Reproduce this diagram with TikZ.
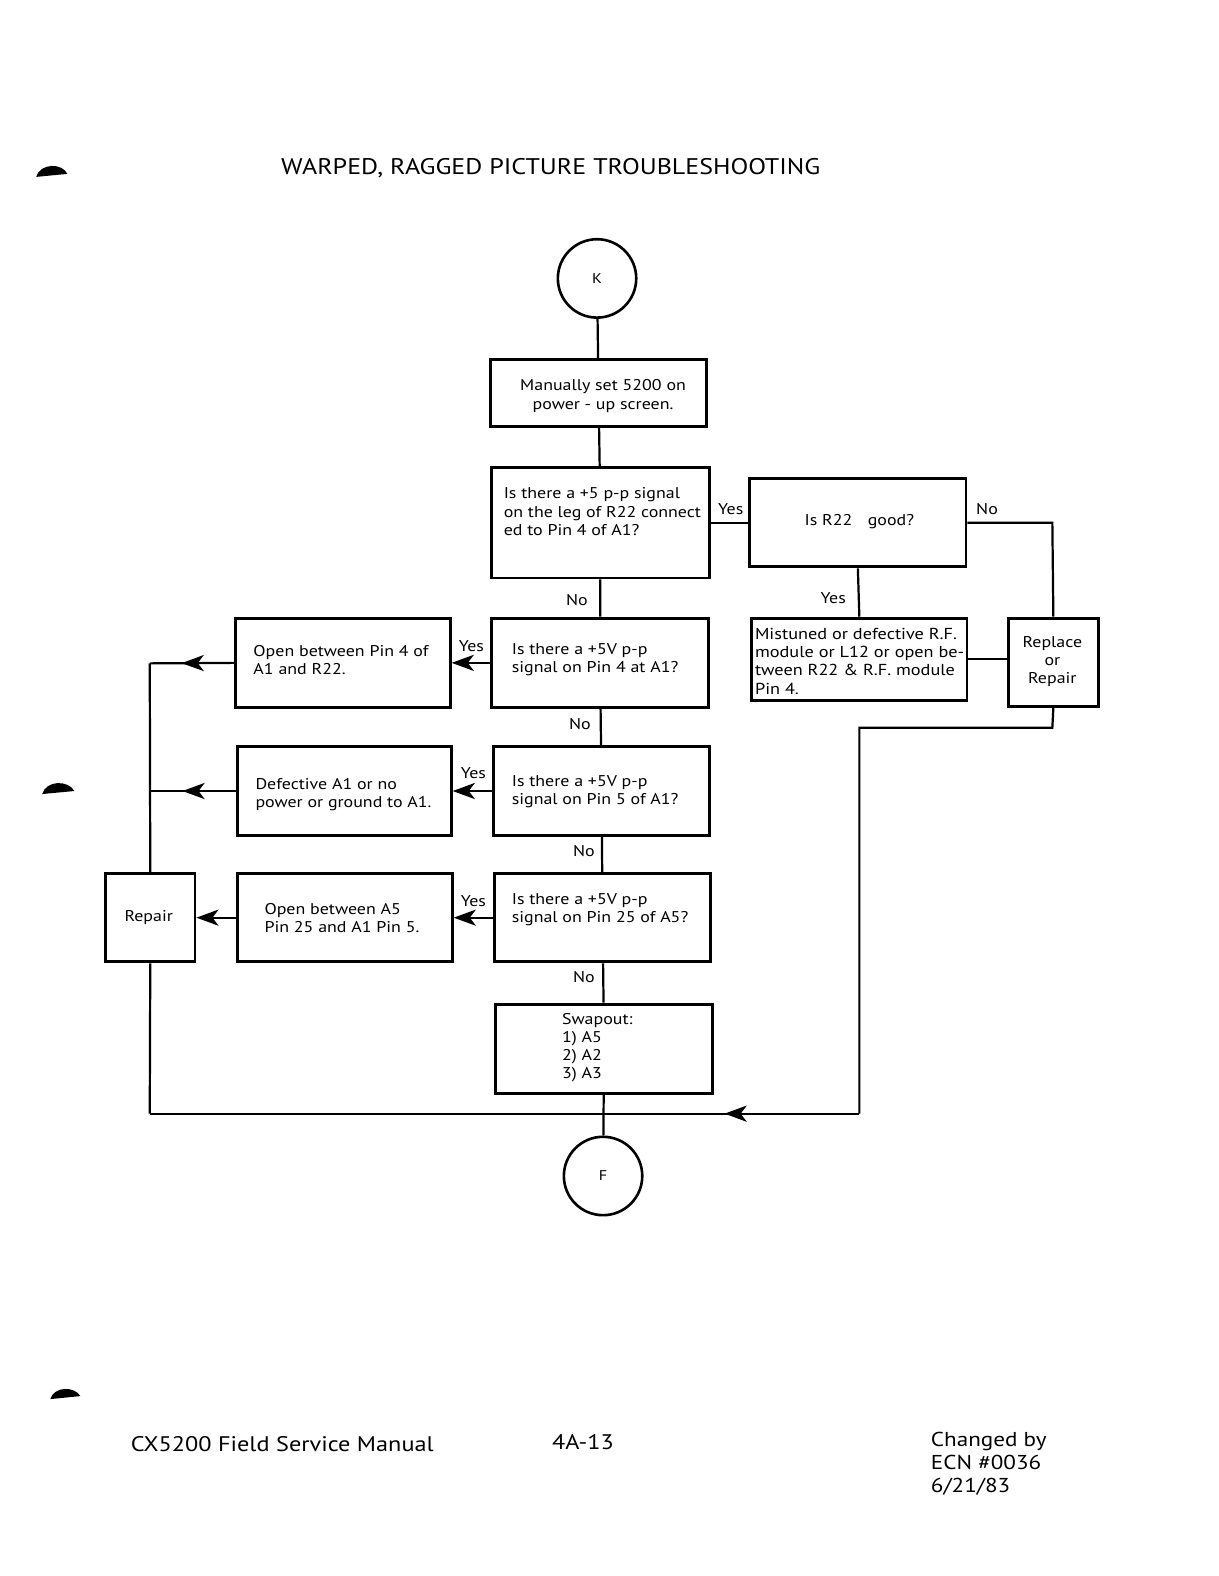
\documentclass[tikz,border=0pt]{standalone}
\usepackage{fontspec}
\setmainfont{PT Sans}[FakeStretch=1.15]
\usetikzlibrary{arrows.meta,decorations.markings}
\tikzset{
  box/.style={draw, line width=2.8pt, rectangle, inner sep=0pt},
  conn/.style={draw, line width=2.2pt},
  circ/.style={draw, line width=2.6pt, circle, minimum size=78pt, inner sep=0pt, font=\fontsize{14}{16}\selectfont},
  txt/.style={inner sep=0pt, font=\fontsize{15.5}{18}\selectfont},
  lbl/.style={inner sep=0pt, font=\fontsize{15.5}{18}\selectfont},
  arr/.style={-{Stealth[length=22pt,width=16pt,inset=6pt]}},
  midarrow/.style={postaction={decorate},decoration={markings,mark=at position #1 with {\arrow{Stealth[length=22pt,width=16pt,inset=6pt]}}}}
}
\begin{document}
\begin{tikzpicture}[x=1pt,y=-1pt]
\useasboundingbox (0,0) rectangle (1212,1568);
% punch marks
\fill (36,176) .. controls (40,162) and (62,162) .. (67,173) -- cycle;
\fill (42,790) .. controls (46,776) and (68,776) .. (74,787) -- cycle;
\fill (50,1392) .. controls (54,1379) and (74,1379) .. (80,1389) -- cycle;
% title
\node[inner sep=0pt, font=\fontsize{22.5}{26}\selectfont] (title) at (548,167) {WARPED, RAGGED PICTURE TROUBLESHOOTING};
% circles
\node[circ] (K) at (594,277) {K};
\node[circ] (F) at (600,1170) {F};
% boxes
\node[box, minimum width=215pt, minimum height=66pt] (b1) at (595.5,391) {};
\node[box, minimum width=217pt, minimum height=110pt] (q1) at (597.5,520) {};
\node[box, minimum width=215pt, minimum height=88pt] (r22) at (853.5,520) {};
\node[box, minimum width=214pt, minimum height=82pt] (mis) at (855,656) {};
\node[box, minimum width=90pt, minimum height=88pt] (rep) at (1048,659) {};
\node[box, minimum width=216pt, minimum height=89pt] (q2) at (597,659.5) {};
\node[box, minimum width=214pt, minimum height=89pt] (o1) at (341,659.5) {};
\node[box, minimum width=215pt, minimum height=88pt] (q3) at (598.5,787) {};
\node[box, minimum width=213pt, minimum height=88pt] (d1) at (342.5,787) {};
\node[box, minimum width=215pt, minimum height=88pt] (q4) at (599.5,913) {};
\node[box, minimum width=214pt, minimum height=88pt] (o2) at (343,913) {};
\node[box, minimum width=89pt, minimum height=88pt] (repair) at (149.5,913) {};
\node[box, minimum width=216pt, minimum height=89pt] (sw) at (601,1043.5) {};
% texts
\node[txt, align=center] (t1) at (600,394) {Manually set 5200 on\\power - up screen.};
\node[txt, align=left, anchor=west] (tq1) at (501,509) {Is there a +5 p-p signal\\on the leg of R22 connect\\ed to Pin 4 of A1?};
\node[txt] (tr22) at (855,519) {Is R22\quad good?};
\node[txt, align=left, anchor=west, font=\fontsize{15.8}{18}\selectfont] (tmis) at (751,658) {Mistuned or defective R.F.\\module or L12 or open be-\\tween R22 \& R.F. module\\Pin 4.};
\node[txt, align=center] (trep) at (1047,658) {Replace\\or\\Repair};
\node[txt, align=left, anchor=west] (tq2) at (509,656) {Is there a +5V p-p\\signal on Pin 4 at A1?};
\node[txt, align=left, anchor=west] (to1) at (252,657) {Open between Pin 4 of\\A1 and R22.};
\node[txt, align=left, anchor=west] (tq3) at (509,788) {Is there a +5V p-p\\signal on Pin 5 of A1?};
\node[txt, align=left, anchor=west] (td1) at (254,791) {Defective A1 or no\\power or ground to A1.};
\node[txt, align=left, anchor=west] (tq4) at (509,905) {Is there a +5V p-p\\signal on Pin 25 of A5?};
\node[txt, align=left, anchor=west] (to2) at (263,913) {Open between A5\\Pin 25 and A1 Pin 5.};
\node[txt] (trepair) at (148,913) {Repair};
\node[txt, align=left, anchor=west] (tsw) at (559,1042) {Swapout:\\1) A5\\2) A2\\3) A3};
% coordinates
\coordinate (n1) at (1047,520);
\coordinate (c1) at (1047,724);
\coordinate (c2) at (855,724);
\coordinate (c3) at (855,1108);
\coordinate (c4) at (149,1108);
\coordinate (l1) at (149,660);
\coordinate (l2) at (149,787);
% main spine
\draw[conn] (K) -- (b1);
\draw[conn] (b1) -- (q1);
\draw[conn] (q1) -- (q2);
\draw[conn] (q2) -- (q3);
\draw[conn] (q3) -- (q4);
\draw[conn] (q4) -- (sw);
\draw[conn] (sw) -- (F);
% right branch
\draw[conn] (q1.east) -- (r22.west);
\draw[conn] (r22.east) -- (n1) -- (rep.north);
\draw[conn] (r22.south) -- (mis.north);
\draw[conn] (mis.east) -- (mis.east -| rep.west);
\draw[conn] (rep.south) -- (c1) -- (c2) -- (c3);
\draw[conn, midarrow=0.19] (c3) -- (c4);
\draw[conn] (repair.south) -- (c4);
% left branch
\draw[conn, arr] (q2.west) -- (o1.east);
\draw[conn, arr] (q3.west) -- (d1.east);
\draw[conn, arr] (q4.west) -- (o2.east);
\draw[conn, arr] (o2.west) -- (repair.east);
\draw[conn, midarrow=0.62] (o1.west) -- (l1);
\draw[conn, midarrow=0.62] (d1.west) -- (l2);
\draw[conn] (repair.north) -- (l1);
% labels
\node[lbl] (y1) at (727,507) {Yes};
\node[lbl] (no1) at (982,506) {No};
\node[lbl] (y2) at (829,595) {Yes};
\node[lbl] (no2) at (574,597) {No};
\node[lbl] (no3) at (577,720) {No};
\node[lbl] (no4) at (581,847) {No};
\node[lbl] (no5) at (581,972) {No};
\node[lbl] (y3) at (469,643) {Yes};
\node[lbl] (y4) at (471,769) {Yes};
\node[lbl] (y5) at (471,897) {Yes};
% footer
\node[inner sep=0pt, anchor=west, font=\fontsize{21}{23}\selectfont] (f1) at (130,1437) {CX5200 Field Service Manual};
\node[inner sep=0pt, font=\fontsize{21}{23}\selectfont] (f2) at (580,1435) {4A-13};
\node[inner sep=0pt, anchor=west, align=left, font=\fontsize{20}{23}\selectfont] (f3) at (926,1456) {Changed by\\ECN \#0036\\6/21/83};
\end{tikzpicture}
\end{document}
